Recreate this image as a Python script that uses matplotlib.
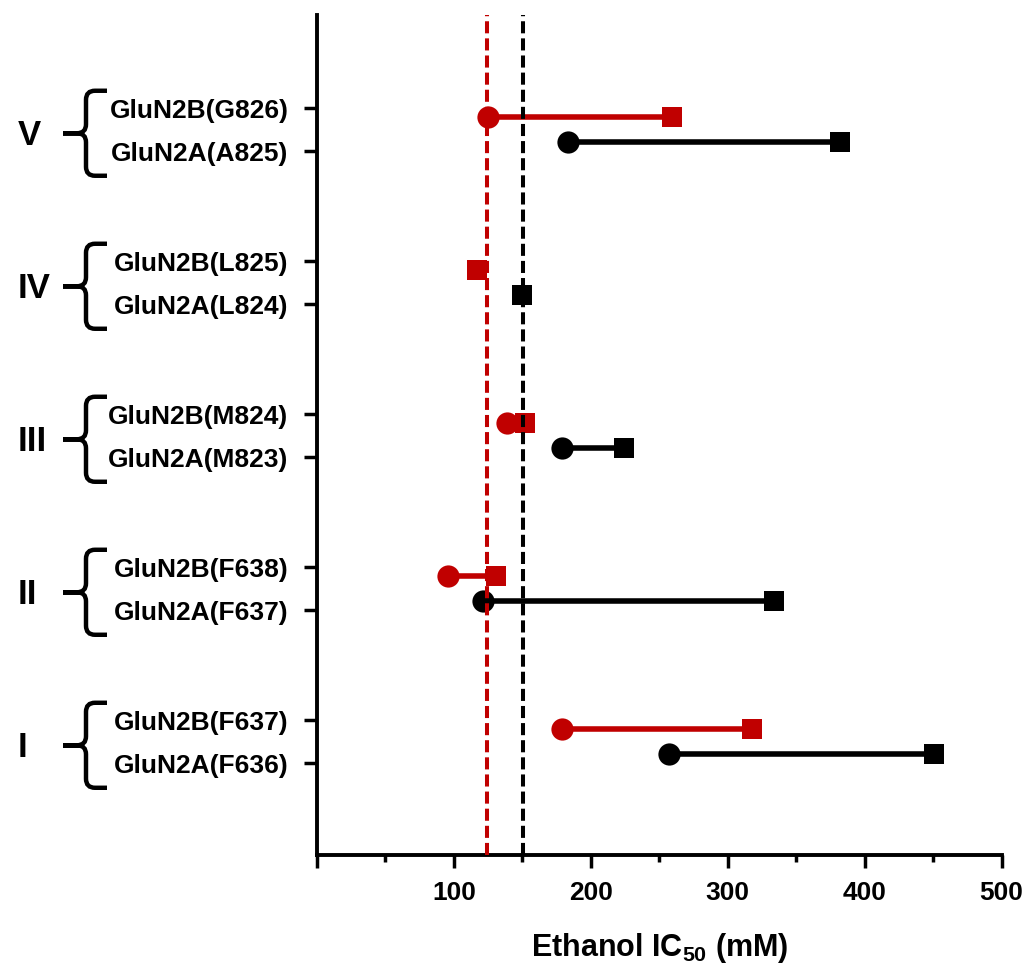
import numpy as np
import matplotlib
matplotlib.use('Agg')
import matplotlib.pyplot as plt
from matplotlib.path import Path
from matplotlib.patches import PathPatch
from matplotlib.transforms import blended_transform_factory

plt.rcParams['font.family'] = 'Liberation Sans'
plt.rcParams['font.weight'] = 'bold'
plt.rcParams['axes.labelweight'] = 'bold'
plt.rcParams['mathtext.fontset'] = 'custom'
plt.rcParams['mathtext.bf'] = 'Liberation Sans:bold'
plt.rcParams['mathtext.rm'] = 'Liberation Sans:bold'

# -----------------------------------------------------------------------
# Data (ethanol IC50, mM), groups from bottom (I) to top (V)
# -----------------------------------------------------------------------
groups = ['I', 'II', 'III', 'IV', 'V']
n2b_labels = ['GluN2B(F637)', 'GluN2B(F638)', 'GluN2B(M824)',
              'GluN2B(L825)', 'GluN2B(G826)']
n2a_labels = ['GluN2A(F636)', 'GluN2A(F637)', 'GluN2A(M823)',
              'GluN2A(L824)', 'GluN2A(A825)']

n2b_circle = [179, 96, 139, np.nan, 125]
n2b_square = [318, 131, 152, 117, 259]
n2a_circle = [257, 121, 179, np.nan, 183]
n2a_square = [451, 334, 224, 150, 382]

ref_n2b = 124.5
ref_n2a = 150.5

red = '#C00000'

# -----------------------------------------------------------------------
# Plot
# -----------------------------------------------------------------------
W, H = 1022, 966
fig = plt.figure(figsize=(W / 100, H / 100), dpi=100)
ax = fig.add_axes([317 / W, 1 - 855 / H, 684.5 / W, 840 / H])

ylo, yhi = 0.26, 5.75
ax.set_xlim(0, 500)
ax.set_ylim(ylo, yhi)
px_per_unit = 840 / (yhi - ylo)

ypos = np.arange(1, len(groups) + 1)
tick_off = 0.14
pt_off = 0.083

for i, y in enumerate(ypos):
    for c, s, yy, col in [(n2b_circle[i], n2b_square[i], y + pt_off, red),
                          (n2a_circle[i], n2a_square[i], y - pt_off, 'black')]:
        if not np.isnan(c):
            ax.plot([c, s], [yy, yy], color=col, lw=4, solid_capstyle='butt', zorder=2)
            ax.plot(c, yy, 'o', color=col, ms=16, mew=0, zorder=3)
        ax.plot(s, yy, 's', color=col, ms=14.5, mew=0, zorder=3)

ax.axvline(ref_n2b, color=red, lw=2.9, ls=(0, (3, 1.25)), zorder=4)
ax.axvline(ref_n2a, color='black', lw=2.9, ls=(0, (3, 1.25)), zorder=4)

# axes styling
for side in ['top', 'right']:
    ax.spines[side].set_visible(False)
for side in ['left', 'bottom']:
    ax.spines[side].set_linewidth(2.8)

ax.set_xticks([0, 100, 200, 300, 400, 500])
ax.set_xticklabels(['', '100', '200', '300', '400', '500'])
ax.set_xticks([50, 150, 250, 350, 450], minor=True)
ax.tick_params(axis='x', which='major', length=9.5, width=2.5, labelsize=19, pad=9)
ax.tick_params(axis='x', which='minor', length=5, width=2.5)

yt = np.concatenate([ypos + tick_off, ypos - tick_off])
ax.set_yticks(yt)
ax.set_yticklabels(n2b_labels + n2a_labels)
ax.tick_params(axis='y', length=9.5, width=2.5, labelsize=19, pad=11)

ax.set_xlabel(r'Ethanol IC$_{\mathbf{50}}$ (mM)', fontsize=22, labelpad=19)

# braces and group numerals on the left
tr = blended_transform_factory(fig.transFigure, ax.transData)
for g, y in zip(groups, ypos):
    yc = y - 3.5 / px_per_unit
    h = 42.5 / px_per_unit
    k = 9 / px_per_unit
    verts, codes = [], []
    for sgn in (1, -1):
        pts = [(107, yc + sgn * h), (95, yc + sgn * h),
               (86, yc + sgn * h), (86, yc + sgn * (h - k)),
               (86, yc + sgn * k),
               (86, yc), (77, yc), (63, yc)]
        cds = [Path.MOVETO, Path.LINETO, Path.CURVE3, Path.CURVE3,
               Path.LINETO, Path.CURVE3, Path.CURVE3, Path.LINETO]
        verts += [(x / W, yy) for x, yy in pts]
        codes += cds
    patch = PathPatch(Path(verts, codes), fill=False, lw=3.2, color='black',
                      transform=tr, clip_on=False, capstyle='butt')
    fig.add_artist(patch)
    fig.text(18 / W, y - 6 / px_per_unit, g, fontsize=25, ha='left', va='center',
             transform=tr)

fig.savefig('out.png', dpi=100)
